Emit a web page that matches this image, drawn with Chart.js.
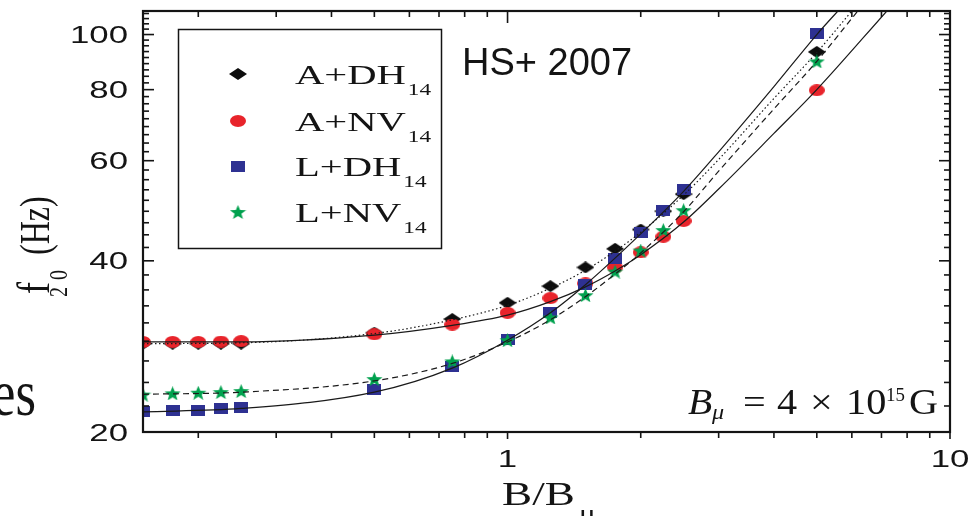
<!DOCTYPE html>
<html>
<head>
<meta charset="utf-8">
<script src="https://cdn.jsdelivr.net/npm/chart.js@4.4.1/dist/chart.umd.min.js"></script>
<style>
  html, body { margin: 0; padding: 0; background: #fff; }
  canvas { display: block; }
</style>
</head>
<body>
<canvas id="f20Chart" width="972" height="516"></canvas>
<script>
// B/B_mu values of the computed models
const bRatio = [0.15, 0.175, 0.2, 0.225, 0.25, 0.5, 0.75, 1, 1.25, 1.5, 1.75, 2, 2.25, 2.5, 5];
// f_20 (Hz) for each EOS
const aDH = [28.6, 28.6, 28.6, 28.6, 28.6, 29.9, 31.6, 33.75, 36.1, 38.95, 42.0, 45.4, 48.9, 52.4, 93.2];
const aNV = [28.8, 28.8, 28.8, 28.85, 28.9, 29.7, 30.9, 32.4, 34.4, 36.5, 38.95, 41.4, 44.1, 47.0, 79.8];
const lDH = [21.7, 21.78, 21.84, 21.96, 22.08, 23.71, 26.1, 29.1, 32.5, 36.4, 40.4, 44.8, 49.1, 53.4, 100.4];
const lNV = [23.27, 23.39, 23.45, 23.51, 23.6, 24.78, 26.62, 29.0, 31.8, 34.8, 38.3, 41.7, 45.3, 49.1, 89.7];

// fitted curves
const aDHFitX = [0.15, 0.25, 0.5, 0.75, 1, 1.25, 1.5, 1.75, 2, 2.5, 3, 4, 5, 6.0];
const aDHFitY = [28.6, 28.7, 29.8, 31.5, 33.4, 35.8, 38.5, 41.6, 44.9, 52.2, 60.3, 77.2, 93.0, 110];
const aNVFitX = [0.15, 0.25, 0.5, 0.75, 1, 1.25, 1.5, 1.75, 2, 2.5, 3, 4, 5, 7.2];
const aNVFitY = [28.8, 28.8, 29.6, 30.8, 32.1, 33.9, 36.0, 38.4, 41.0, 46.8, 53.5, 67.0, 80.0, 110];
const lDHFitX = [0.15, 0.25, 0.5, 0.75, 1, 1.25, 1.5, 2, 2.5, 3, 4, 5, 5.58];
const lDHFitY = [21.7, 22.0, 23.5, 25.9, 29.0, 32.4, 36.3, 44.6, 53.0, 62.2, 81.0, 100, 110];
const lNVFitX = [0.15, 0.25, 0.5, 0.75, 1, 1.25, 1.5, 1.75, 2, 2.5, 3, 4, 5, 6.19];
const lNVFitY = [23.3, 23.5, 24.6, 26.4, 28.8, 31.5, 34.6, 37.9, 41.3, 48.8, 57.5, 74.0, 89.7, 110];

const seriesNames = ['A+DH', 'A+NV', 'L+DH', 'L+NV'];
const seriesSub = '14';
const xMajorTicks = [1, 10];
const xMinorTicks = [0.2, 0.3, 0.4, 0.5, 0.6, 0.7, 0.8, 0.9, 2, 3, 4, 5, 6, 7, 8, 9];
const yMajorTicks = [20, 40, 60, 80, 100];

let yMinorTicks = [];
yMajorTicks.forEach(b => {
  for (let k = 1; k < 9; k++) {
    let v = b + k * 20 / 9;
    if (v < 110) yMinorTicks.push(v);
  }
});

const toPoints = (xs, ys) => xs.map((x, i) => ({ x: x, y: ys[i] }));

// stretched marker shapes, as in the figure
function makeMarker(w, h, kind, color) {
  const c = document.createElement('canvas');
  c.width = w; c.height = h;
  const g = c.getContext('2d');
  g.fillStyle = color;
  g.beginPath();
  if (kind === 'diamond') {
    g.moveTo(w / 2, 0); g.lineTo(w, h / 2); g.lineTo(w / 2, h); g.lineTo(0, h / 2);
  } else if (kind === 'ellipse') {
    g.ellipse(w / 2, h / 2, w / 2, h / 2, 0, 0, Math.PI * 2);
  } else if (kind === 'square') {
    g.rect(0, 0, w, h);
  } else {
    for (let i = 0; i < 10; i++) {
      const r = i % 2 === 0 ? 1 : 0.42;
      const ang = -Math.PI / 2 + i * Math.PI / 5;
      const px = w / 2 + r * (w / 2) * Math.cos(ang);
      const py = h * 0.55 + r * (h * 0.55) * Math.sin(ang);
      if (i === 0) g.moveTo(px, py); else g.lineTo(px, py);
    }
  }
  g.closePath();
  g.fill();
  return c;
}

const markers = [
  makeMarker(18, 12, 'diamond', '#0d0d0d'),
  makeMarker(16, 12, 'ellipse', '#e8242b'),
  makeMarker(14, 11, 'square', '#2e3192'),
  makeMarker(17, 14, 'star', '#00a14e')
];

function stretchText(ctx, text, x, y, sx, align) {
  ctx.save();
  ctx.translate(x, y);
  ctx.scale(sx, 1);
  ctx.textAlign = align || 'left';
  ctx.fillText(text, 0, 0);
  ctx.restore();
}

const framePlugin = {
  id: 'frame',
  afterDraw(chart) {
    const ctx = chart.ctx;
    const a = chart.chartArea;
    const xs = chart.scales.x;
    const ys = chart.scales.y;
    ctx.save();
    ctx.strokeStyle = '#141414';
    ctx.fillStyle = '#141414';

    const seg = (x1, y1, x2, y2) => { ctx.beginPath(); ctx.moveTo(x1, y1); ctx.lineTo(x2, y2); ctx.stroke(); };
    ctx.lineWidth = 1.6;
    xMinorTicks.forEach(v => {
      const p = xs.getPixelForValue(v);
      seg(p, a.bottom, p, a.bottom + 6);
      seg(p, a.top, p, a.top + 6);
    });
    xMajorTicks.forEach(v => {
      const p = xs.getPixelForValue(v);
      seg(p, a.bottom, p, a.bottom + 7);
      seg(p, a.top, p, a.top + 12);
    });
    yMinorTicks.forEach(v => {
      const p = ys.getPixelForValue(v);
      seg(a.left, p, a.left + 6, p);
      seg(a.right, p, a.right - 6, p);
    });
    yMajorTicks.forEach(v => {
      const p = ys.getPixelForValue(v);
      seg(a.left, p, a.left + 11, p);
      seg(a.right, p, a.right - 11, p);
    });
    ctx.lineWidth = 2.2;
    ctx.strokeRect(a.left, a.top, a.right - a.left, a.bottom - a.top);

    // tick labels
    ctx.font = '24px "Liberation Sans", Arial, sans-serif';
    yMajorTicks.forEach(v => {
      stretchText(ctx, String(v), 128, ys.getPixelForValue(v) + 8.6, 1.45, 'right');
    });
    xMajorTicks.forEach(v => {
      stretchText(ctx, String(v), xs.getPixelForValue(v), 467, 1.45, 'center');
    });

    // axis titles
    ctx.font = '34px "Liberation Serif", "Times New Roman", serif';
    stretchText(ctx, 'B/B', 502, 505, 1.33);
    ctx.font = '26px "Liberation Serif", serif';
    stretchText(ctx, 'μ', 579, 522, 1.2);

    ctx.save();
    ctx.translate(49, 0);
    ctx.rotate(-Math.PI / 2);
    ctx.scale(1, 1.3);
    ctx.font = '36px "Liberation Serif", serif';
    ctx.fillText('f', -294, 0);
    ctx.font = '32px "Liberation Serif", serif';
    ctx.fillText('(Hz)', -255, 0);
    ctx.font = '20px "Liberation Serif", serif';
    ctx.fillText('2', -297, 14);
    ctx.fillText('0', -280, 14);
    ctx.restore();

    // annotations
    ctx.font = '38px "Liberation Sans", Arial, sans-serif';
    ctx.fillText('HS+ 2007', 462, 75);

    ctx.font = 'italic 36px "Liberation Serif", serif';
    stretchText(ctx, 'B', 688, 414, 1.1);
    ctx.font = 'italic 22px "Liberation Serif", serif';
    stretchText(ctx, 'μ', 712, 419, 1.1);
    ctx.font = '35px "Liberation Serif", serif';
    stretchText(ctx, '=', 743, 414, 1.15);
    stretchText(ctx, '4', 777, 414, 1.15);
    stretchText(ctx, '×', 810, 414, 1.15);
    stretchText(ctx, '10', 846, 414, 1.15);
    stretchText(ctx, 'G', 909, 414, 1.15);
    ctx.font = '18px "Liberation Serif", serif';
    stretchText(ctx, '15', 886, 401, 1.05);

    // fragment of neighbouring text
    ctx.font = '66px "Liberation Serif", serif';
    stretchText(ctx, 'es', 36, 415, 0.8, 'right');

    // legend
    const rowY = [74, 121, 166, 212];
    ctx.fillStyle = '#fff';
    ctx.fillRect(178, 29, 263, 219);
    ctx.lineWidth = 1.5;
    ctx.strokeRect(178.5, 29.5, 263, 219);
    ctx.fillStyle = '#141414';
    seriesNames.forEach((name, i) => {
      const m = markers[i];
      ctx.drawImage(m, 238 - m.width / 2, rowY[i] - m.height / 2);
      ctx.font = '28px "Liberation Serif", "Times New Roman", serif';
      const w = ctx.measureText(name).width * 1.45;
      stretchText(ctx, name, 295, rowY[i] + 9.5, 1.45);
      ctx.font = '16px "Liberation Serif", serif';
      stretchText(ctx, seriesSub, 297 + w, rowY[i] + 21, 1.45);
    });
    ctx.restore();
  }
};

const curveStyle = (dash) => ({
  showLine: true,
  pointRadius: 0,
  borderColor: '#1a1a1a',
  borderWidth: 1.2,
  borderDash: dash,
  cubicInterpolationMode: 'monotone',
  clip: 0
});

const markerStyle = (i) => ({
  showLine: false,
  pointStyle: markers[i],
  pointRadius: 8,
  clip: 0
});

new Chart(document.getElementById('f20Chart'), {
  type: 'scatter',
  data: {
    datasets: [
      Object.assign({ label: 'A+DH fit', data: toPoints(aDHFitX, aDHFitY) }, curveStyle([1.5, 2.5])),
      Object.assign({ label: 'A+NV fit', data: toPoints(aNVFitX, aNVFitY) }, curveStyle([])),
      Object.assign({ label: 'L+DH fit', data: toPoints(lDHFitX, lDHFitY) }, curveStyle([])),
      Object.assign({ label: 'L+NV fit', data: toPoints(lNVFitX, lNVFitY) }, curveStyle([6, 4])),
      Object.assign({ label: 'L+NV14', data: toPoints(bRatio, lNV) }, markerStyle(3)),
      Object.assign({ label: 'L+DH14', data: toPoints(bRatio, lDH) }, markerStyle(2)),
      Object.assign({ label: 'A+NV14', data: toPoints(bRatio, aNV) }, markerStyle(1)),
      Object.assign({ label: 'A+DH14', data: toPoints(bRatio, aDH) }, markerStyle(0))
    ]
  },
  options: {
    responsive: false,
    animation: false,
    layout: { padding: { top: 11, right: 22, left: 0, bottom: 0 } },
    plugins: {
      legend: { display: false },
      tooltip: { enabled: false }
    },
    scales: {
      x: {
        type: 'logarithmic',
        min: 0.15,
        max: 10,
        bounds: 'data',
        grid: { display: false },
        border: { display: false },
        ticks: { display: false },
        afterBuildTicks: (s) => { s.ticks = xMajorTicks.map(v => ({ value: v })); },
        afterFit: (s) => { s.height = 84; }
      },
      y: {
        type: 'logarithmic',
        min: 20,
        max: 110,
        bounds: 'data',
        grid: { display: false },
        border: { display: false },
        ticks: { display: false },
        afterBuildTicks: (s) => { s.ticks = yMajorTicks.map(v => ({ value: v })); },
        afterFit: (s) => { s.width = 143; }
      }
    }
  },
  plugins: [framePlugin]
});
</script>
</body>
</html>
